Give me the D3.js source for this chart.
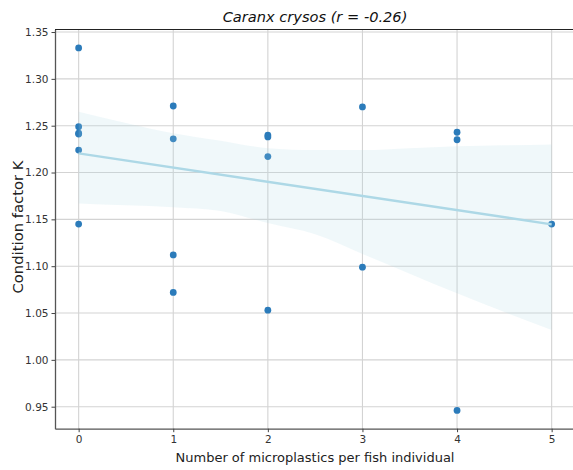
<!DOCTYPE html>
<html>
<head>
<meta charset="utf-8">
<script src="https://d3js.org/d3.v7.min.js"></script>
<style>
  body{ margin:0; background:#fff; }
  text{ font-family: "DejaVu Sans", sans-serif; }
</style>
</head>
<body>
<svg id="vis"></svg>
<script>
  var width = 573,
    height = 470,
    margin = {left: 55, top: 29.5, right: -2.3, bottom: 41.3},
    pointColor = "#2b7bba",
    lineColor = "#add8e6",
    gridColor = "#d3d3d3";

  // data -----------------------------------------------------
  var microplastics = [0, 0, 0, 0, 0, 0, 1, 1, 1, 1, 2, 2, 2, 2, 3, 3, 4, 4, 4, 5];
  var conditionK = [1.333, 1.249, 1.242, 1.241, 1.224, 1.145,
                    1.271, 1.236, 1.112, 1.072,
                    1.240, 1.238, 1.217, 1.053,
                    1.270, 1.099,
                    1.243, 1.235, 0.946,
                    1.145];

  // regression fit and its confidence band
  var fitIntercept = 1.2204,
    fitSlope = -0.01514;
  var bandX = [0, 0.5, 1, 1.5, 2, 2.5, 3, 3.5, 4, 4.5, 5];
  var bandUpper = [1.265, 1.253, 1.242, 1.234, 1.226, 1.224, 1.224, 1.226, 1.228, 1.229, 1.230];
  var bandLower = [1.167, 1.165, 1.163, 1.159, 1.146, 1.134, 1.113, 1.092, 1.071, 1.051, 1.032];

  var xTicks = [0, 1, 2, 3, 4, 5];
  var yTicks = [0.95, 1.00, 1.05, 1.10, 1.15, 1.20, 1.25, 1.30, 1.35];

  var title = "Caranx crysos (r = -0.26)",
    xLabel = "Number of microplastics per fish individual",
    yLabel = "Condition factor K";

  // scales ---------------------------------------------------
  var x = d3.scaleLinear()
    .domain([-0.25, 5.25])
    .range([margin.left, width - margin.right]);

  var y = d3.scaleLinear()
    .domain([0.9265, 1.3527])
    .range([height - margin.bottom, margin.top]);

  var svg = d3.select("#vis")
    .attr("width", width)
    .attr("height", height);

  // grid -----------------------------------------------------
  svg.append("g")
    .selectAll("line")
    .data(xTicks)
    .enter().append("line")
    .attr("x1", d => x(d)).attr("x2", d => x(d))
    .attr("y1", y.range()[0]).attr("y2", y.range()[1])
    .style("stroke", gridColor)
    .style("stroke-width", 1.1);

  svg.append("g")
    .selectAll("line")
    .data(yTicks)
    .enter().append("line")
    .attr("y1", d => y(d)).attr("y2", d => y(d))
    .attr("x1", x.range()[0]).attr("x2", x.range()[1])
    .style("stroke", gridColor)
    .style("stroke-width", 1.1);

  // points ---------------------------------------------------
  svg.append("g")
    .selectAll("circle")
    .data(d3.zip(microplastics, conditionK))
    .enter().append("circle")
    .attr("cx", d => x(d[0]))
    .attr("cy", d => y(d[1]))
    .attr("r", 3.4)
    .style("fill", pointColor);

  // confidence band ------------------------------------------
  var band = d3.area()
    .x(d => x(d[0]))
    .y0(d => y(d[2]))
    .y1(d => y(d[1]))
    .curve(d3.curveMonotoneX);

  svg.append("path")
    .datum(d3.zip(bandX, bandUpper, bandLower))
    .attr("d", band)
    .style("fill", lineColor)
    .style("opacity", 0.18);

  // regression line
  var fitLine = d3.line()
    .x(d => x(d))
    .y(d => y(fitIntercept + fitSlope * d));

  svg.append("path")
    .datum([0, 5])
    .attr("d", fitLine)
    .style("fill", "none")
    .style("stroke", lineColor)
    .style("stroke-width", 2.4);

  // axes -----------------------------------------------------
  var xAxis = svg.append("g")
    .attr("transform", "translate(0," + y.range()[0] + ")")
    .call(d3.axisBottom(x).tickValues(xTicks).tickSize(3.5).tickSizeOuter(0).tickPadding(3).tickFormat(d3.format("d")));

  var yAxis = svg.append("g")
    .attr("transform", "translate(" + x.range()[0] + ",0)")
    .call(d3.axisLeft(y).tickValues(yTicks).tickSize(3.5).tickSizeOuter(0).tickPadding(3).tickFormat(d3.format(".2f")));

  [xAxis, yAxis].forEach(function(a) {
    a.selectAll("text")
      .style("font-family", "DejaVu Sans, sans-serif")
      .style("font-size", "10.5px")
      .style("fill", "#333");
    a.selectAll(".tick line").style("stroke", "#444");
    a.select(".domain").style("stroke", "#555").style("stroke-width", 1.3);
  });

  // top spine
  svg.append("line")
    .attr("x1", x.range()[0]).attr("x2", x.range()[1])
    .attr("y1", y.range()[1]).attr("y2", y.range()[1])
    .style("stroke", "#222")
    .style("stroke-width", 1.2);

  // labels ---------------------------------------------------
  svg.append("text")
    .attr("x", 315)
    .attr("y", 22)
    .attr("text-anchor", "middle")
    .style("font-style", "italic")
    .style("font-size", "14.6px")
    .style("fill", "#111")
    .text(title);

  svg.append("text")
    .attr("x", 315)
    .attr("y", 462)
    .attr("text-anchor", "middle")
    .style("font-size", "13px")
    .style("fill", "#222")
    .text(xLabel);

  svg.append("text")
    .attr("transform", "translate(23," + 227 + ") rotate(-90)")
    .attr("text-anchor", "middle")
    .style("font-size", "14.8px")
    .style("fill", "#222")
    .text(yLabel);
</script>
</body>
</html>
